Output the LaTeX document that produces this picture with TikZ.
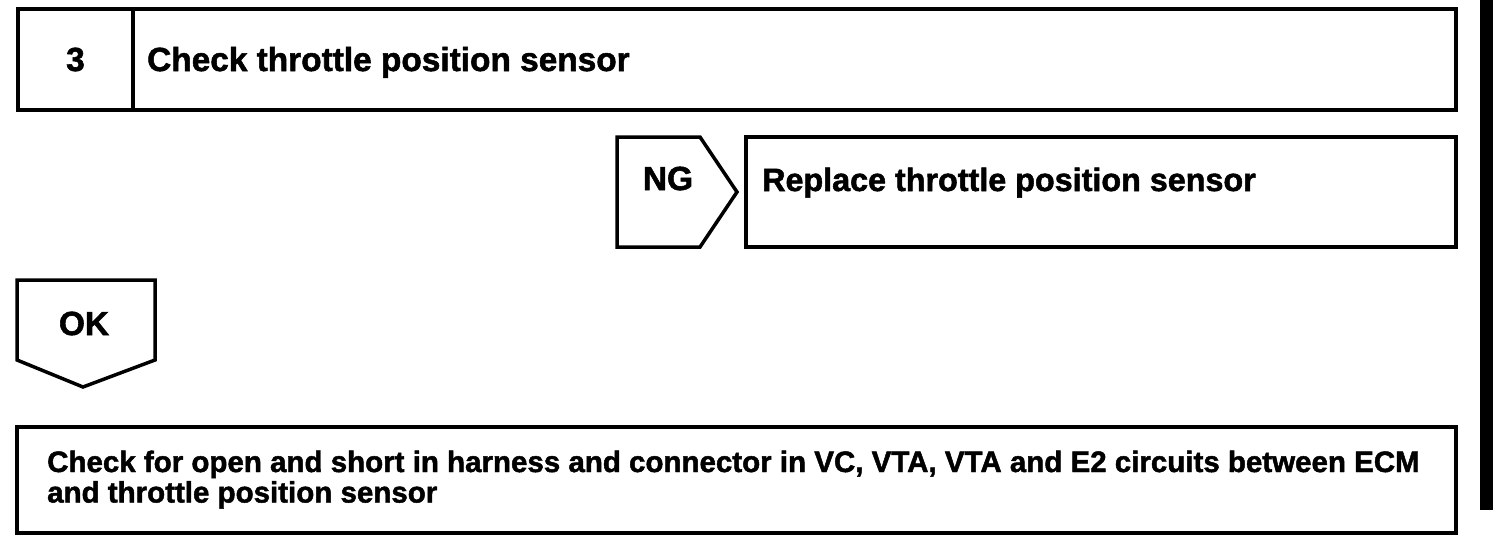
\documentclass[tikz,border=0pt]{standalone}
\usepackage{fontspec}
\setmainfont{Liberation Sans}[BoldFeatures={FakeBold=1.6}]
\usetikzlibrary{positioning}

\tikzset{
 cell/.style={draw,line width=3.5pt,inner sep=0pt,outer sep=0pt,anchor=north west},
 lbl/.style={inner sep=0pt,font=\fontsize{33.4}{36}\selectfont\bfseries},
 note/.style={inner sep=0pt,align=left,font=\fontsize{29.5}{30.5}\selectfont\bfseries},
 tag/.style={draw,line width=3.5pt,line join=miter},
}

\begin{document}
\begin{tikzpicture}[x=1pt,y=-1pt]
 \useasboundingbox (0,0) rectangle (1504,554);
 % step 3
 \node[cell,minimum width=115pt,minimum height=101pt] (num) at (18,9) {};
 \node[cell,minimum width=1323pt,minimum height=101pt] (title) at (num.north east) {};
 \node[lbl] (numtxt) at (num.center) {3};
 \node[lbl,anchor=base west] (titletxt) at (147,71) {Check throttle position sensor};
 % NG branch
 \draw[tag] (617,137) coordinate (ngA) -- (700,137) -- (737,192) coordinate (ngtip)
  -- (700,247) -- (617,247) -- cycle;
 \node[lbl,anchor=base] (ngtxt) at (668,190) {NG};
 \node[cell,minimum width=710pt,minimum height=110pt] (repl) at (746,137) {};
 \node[lbl,anchor=base west,font=\fontsize{32.3}{36}\selectfont\bfseries] (repltxt) at (762,191)
  {Replace throttle position sensor};
 % OK branch
 \draw[tag] (17,280) coordinate (okA) -- (155,280) -- (155,360) -- (83,387) coordinate (oktip)
  -- (17,360) -- cycle;
 \node[lbl,anchor=base] (oktxt) at (84,335) {OK};
 % next check
 \node[cell,minimum width=1439pt,minimum height=106pt] (harn) at (17,427) {};
 \node[note,anchor=base west] (harntxt) at (47,502.5)
  {Check for open and short in harness and connector in VC, VTA, VTA and E2 circuits between ECM\\and throttle position sensor};
 % edge bar
 \fill (1480,0) rectangle (1493,510);
\end{tikzpicture}
\end{document}
